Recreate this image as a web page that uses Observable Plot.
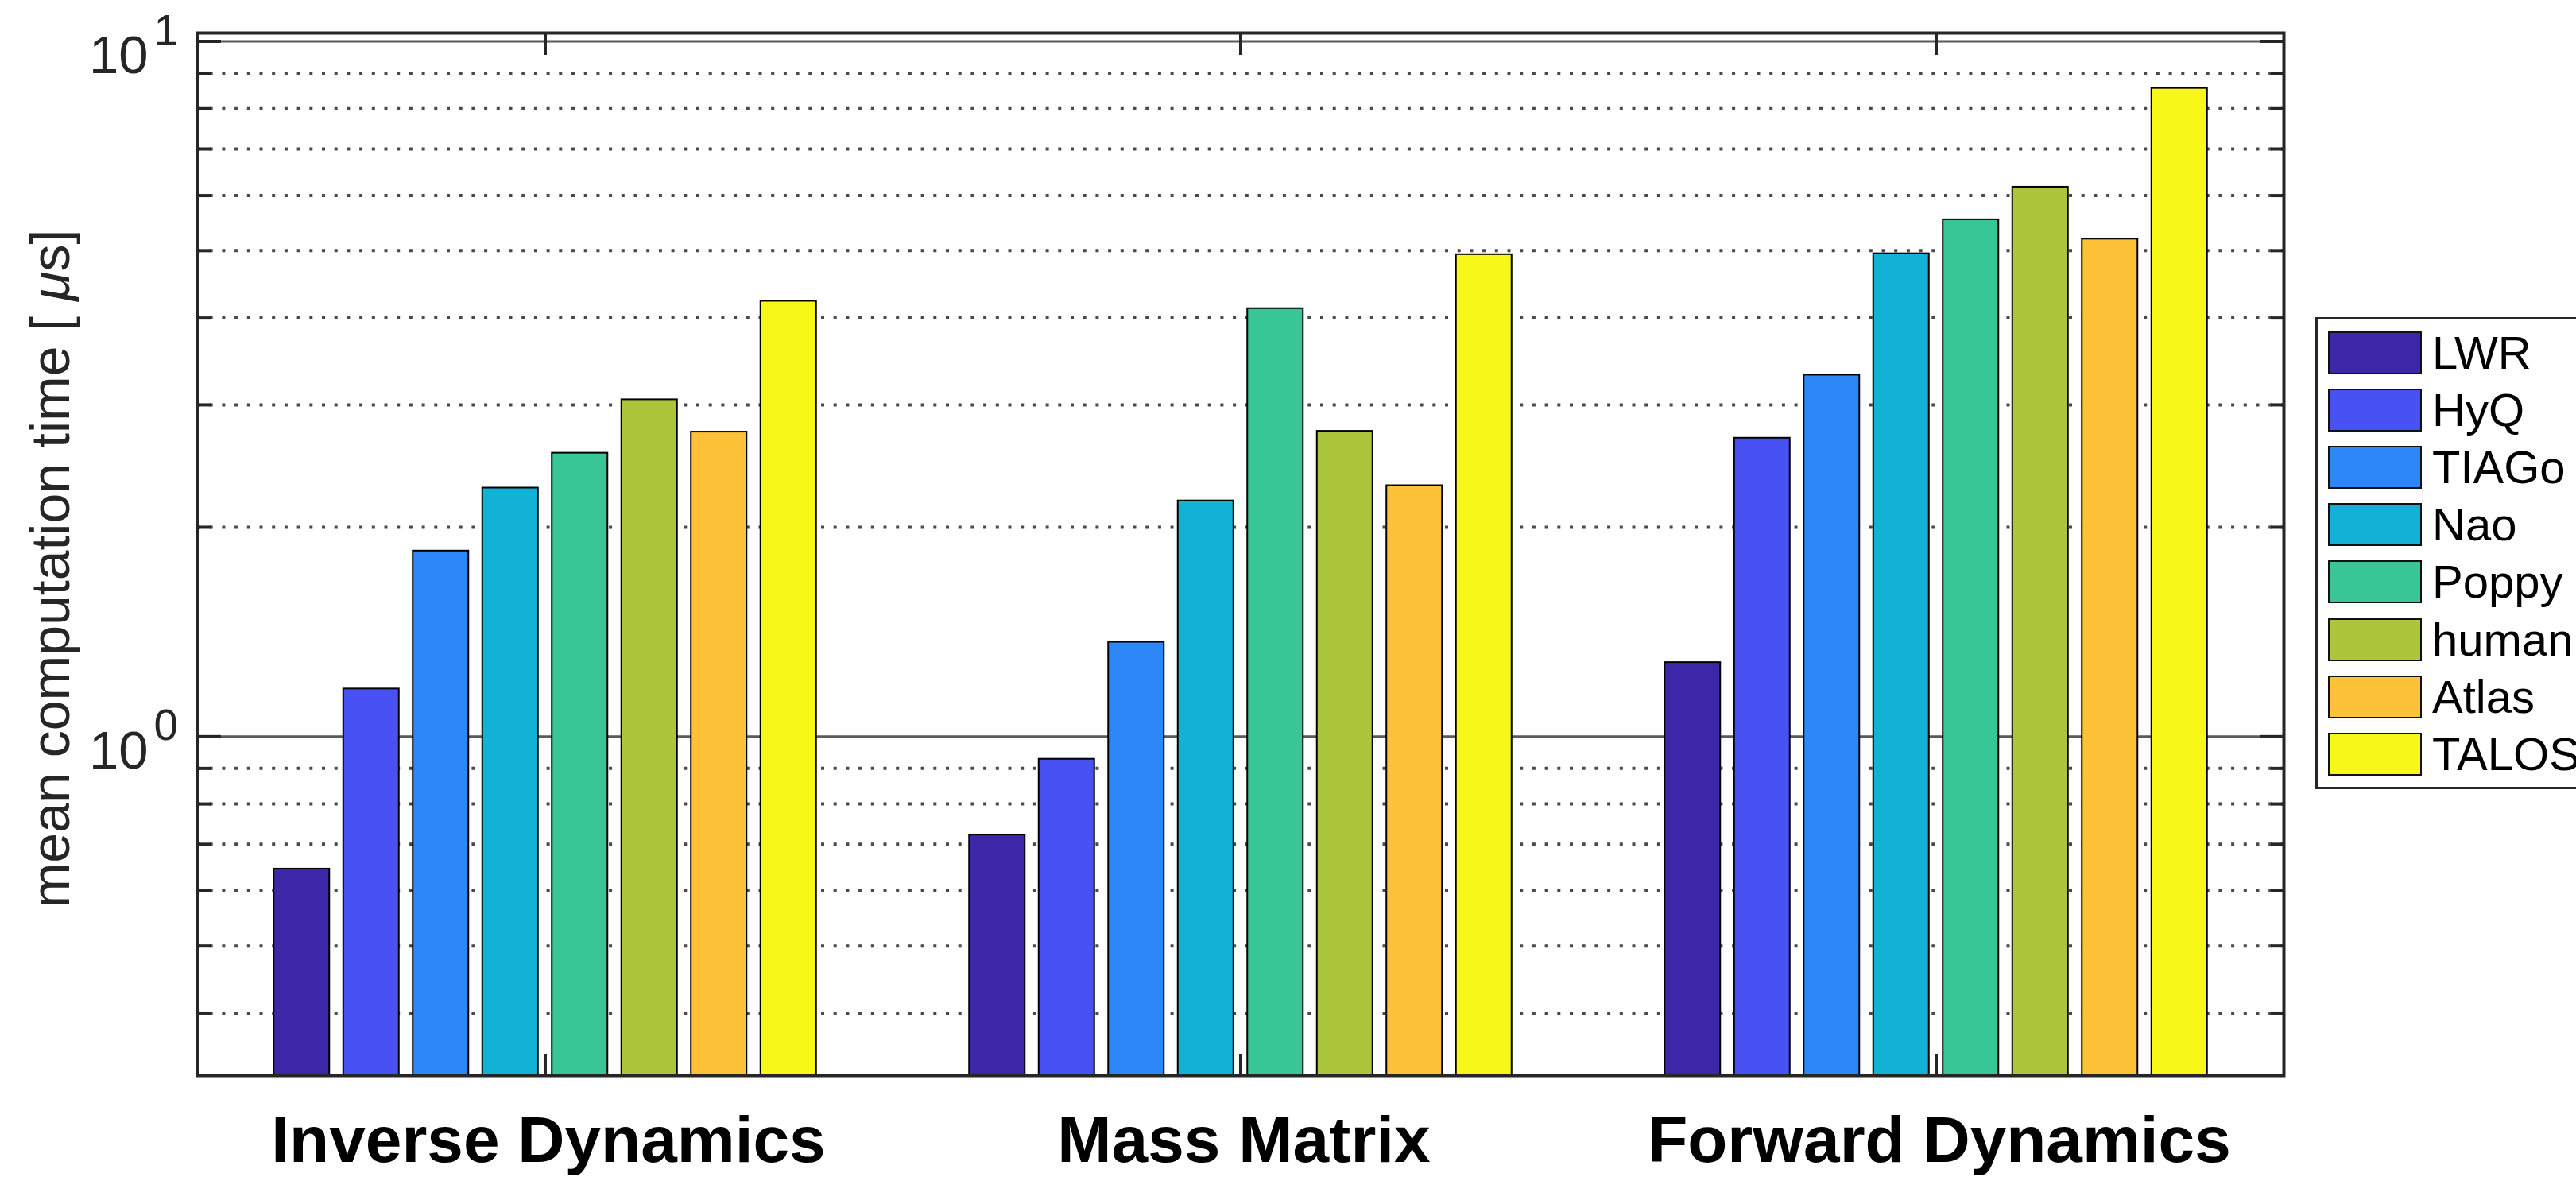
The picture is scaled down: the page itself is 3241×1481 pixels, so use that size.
<!DOCTYPE html>
<html>
<head>
<meta charset="utf-8">
<script src="https://cdn.jsdelivr.net/npm/d3@7"></script>
<script src="https://cdn.jsdelivr.net/npm/@observablehq/plot@0.6"></script>
<style>
  html, body { margin: 0; padding: 0; background: #fff; overflow: hidden; }
  #wrap { position: relative; width: 3241px; height: 1481px; }
  #chart { position: absolute; left: 0; top: 0; }
  #legend { position: absolute; left: 2913px; top: 399px; width: 420px; height: 588px;
            border: 3px solid #262626; background: #fff; box-sizing: content-box;
            font-family: "Liberation Sans", Arial, Helvetica, sans-serif; }
  .item { position: absolute; left: 13px; height: 54px; }
  .sw { position: absolute; left: 0; top: 0; width: 114px; height: 50px; border: 2px solid #111; }
  .lb { position: absolute; left: 131px; top: 27px; transform: translateY(-50%); font-size: 58px; color: #000; white-space: nowrap; line-height: 1; }
</style>
</head>
<body>
<div id="wrap"><div id="chart"></div><div id="legend"></div></div>
<script>
// ---- data ----
const groups = ["Inverse Dynamics", "Mass Matrix", "Forward Dynamics"];
const robots = ["LWR", "HyQ", "TIAGo", "Nao", "Poppy", "human", "Atlas", "TALOS"];
const colors = ["#3E26A8", "#4852F4", "#2D87F6", "#12B1D6", "#38C696", "#ABC63A", "#FEC238", "#F7F718"];
const inverseDynamics = [0.645, 1.171, 1.849, 2.278, 2.557, 3.052, 2.742, 4.229];
const massMatrix      = [0.722, 0.928, 1.367, 2.183, 4.127, 2.749, 2.296, 4.935];
const forwardDynamics = [1.278, 2.687, 3.311, 4.950, 5.540, 6.170, 5.195, 8.558];
const majorTicks = [1, 10];
const minorTicks = [0.4, 0.5, 0.6, 0.7, 0.8, 0.9, 2, 3, 4, 5, 6, 7, 8, 9];
const yLabel = "mean computation time [ μs]";

const series = [inverseDynamics, massMatrix, forwardDynamics];
const rows = [];
series.forEach((vals, gi) => vals.forEach((v, ri) => rows.push({group: groups[gi], gi, robot: robots[ri], ri, value: v})));

const yDomain = [0.3253, 10.28];
const nR = robots.length;
const step = 0.8 / nR;        // grouped bar layout (group width 0.8)
const barW = step * 0.8;      // bar width fraction 0.8
const cx = d => d.gi + 1 + (d.ri - (nR - 1) / 2) * step;

const axisColor = "#262626";
const chart = Plot.plot({
  width: 3241,
  height: 1481,
  marginTop: 41,
  marginBottom: 128,
  marginLeft: 248,
  marginRight: 368,
  style: {fontFamily: "'Liberation Sans', Arial, Helvetica, sans-serif", background: "#fff", overflow: "visible"},
  x: {domain: [0.5, 3.5]},
  y: {type: "log", domain: yDomain},
  color: {domain: robots, range: colors},
  marks: [
    Plot.ruleY(minorTicks, {stroke: "#4a4a4a", strokeWidth: 4, strokeDasharray: "4 11.7"}),
    Plot.ruleY(majorTicks, {stroke: "#5a5a5a", strokeWidth: 3}),
    Plot.rectY(rows, {
      x1: d => cx(d) - barW / 2,
      x2: d => cx(d) + barW / 2,
      y1: yDomain[0],
      y2: "value",
      fill: "robot",
      stroke: "#000",
      strokeWidth: 2
    }),
    // inward ticks, MATLAB-style box
    Plot.axisY(majorTicks, {anchor: "left", tickSize: 30, dx: 30, tickFormat: () => "", label: null, stroke: axisColor, strokeWidth: 4}),
    Plot.axisY(minorTicks, {anchor: "left", tickSize: 17, dx: 17, tickFormat: () => "", label: null, stroke: axisColor, strokeWidth: 4}),
    Plot.axisY(majorTicks, {anchor: "right", tickSize: 30, dx: -30, tickFormat: () => "", label: null, stroke: axisColor, strokeWidth: 4}),
    Plot.axisY(minorTicks, {anchor: "right", tickSize: 17, dx: -17, tickFormat: () => "", label: null, stroke: axisColor, strokeWidth: 4}),
    Plot.axisX([1, 2, 3], {anchor: "bottom", tickSize: 27, dy: -27, tickFormat: () => "", label: null, stroke: axisColor, strokeWidth: 4}),
    Plot.axisX([1, 2, 3], {anchor: "top", tickSize: 27, dy: 27, tickFormat: () => "", label: null, stroke: axisColor, strokeWidth: 4}),
    Plot.frame({stroke: axisColor, strokeWidth: 4}),
    // y tick labels 10^k
    Plot.text(majorTicks, {y: d => d, frameAnchor: "left", text: () => "10", textAnchor: "end", lineAnchor: "middle", dx: -62, dy: 19, fontSize: 67, fill: axisColor}),
    Plot.text(majorTicks, {y: d => d, frameAnchor: "left", text: d => String(Math.round(Math.log10(d))), textAnchor: "start", lineAnchor: "middle", dx: -55, dy: -13, fontSize: 55, fill: axisColor}),
    // category labels
    Plot.text(groups, {x: (d, i) => i + 1, frameAnchor: "bottom", text: d => d, textAnchor: "middle", lineAnchor: "middle", dx: 4, dy: 82, fontSize: 82, fontWeight: "bold", fill: "#000"}),
    // y axis title
    Plot.text([yLabel], {frameAnchor: "left", text: d => d, rotate: -90, textAnchor: "middle", lineAnchor: "middle", dx: -183, dy: 18, fontSize: 68, fill: axisColor})
  ]
});
document.getElementById("chart").appendChild(chart);

// italic mu in the axis title
chart.querySelectorAll("text, tspan").forEach(el => {
  if (el.children.length === 0 && el.textContent === yLabel) {
    const [pre, post] = yLabel.split("μ");
    el.textContent = "";
    const ns = "http://www.w3.org/2000/svg";
    const a = document.createElementNS(ns, "tspan"); a.textContent = pre;
    const b = document.createElementNS(ns, "tspan"); b.textContent = "μ"; b.setAttribute("font-style", "italic");
    const c = document.createElementNS(ns, "tspan"); c.textContent = post;
    el.append(a, b, c);
  }
});

// legend
const legend = document.getElementById("legend");
robots.forEach((r, i) => {
  const item = document.createElement("div");
  item.className = "item";
  item.style.top = (15 + i * 72.1) + "px";
  const sw = document.createElement("div");
  sw.className = "sw";
  sw.style.background = colors[i];
  const lb = document.createElement("div");
  lb.className = "lb";
  lb.textContent = r;
  item.append(sw, lb);
  legend.appendChild(item);
});
</script>
</body>
</html>
